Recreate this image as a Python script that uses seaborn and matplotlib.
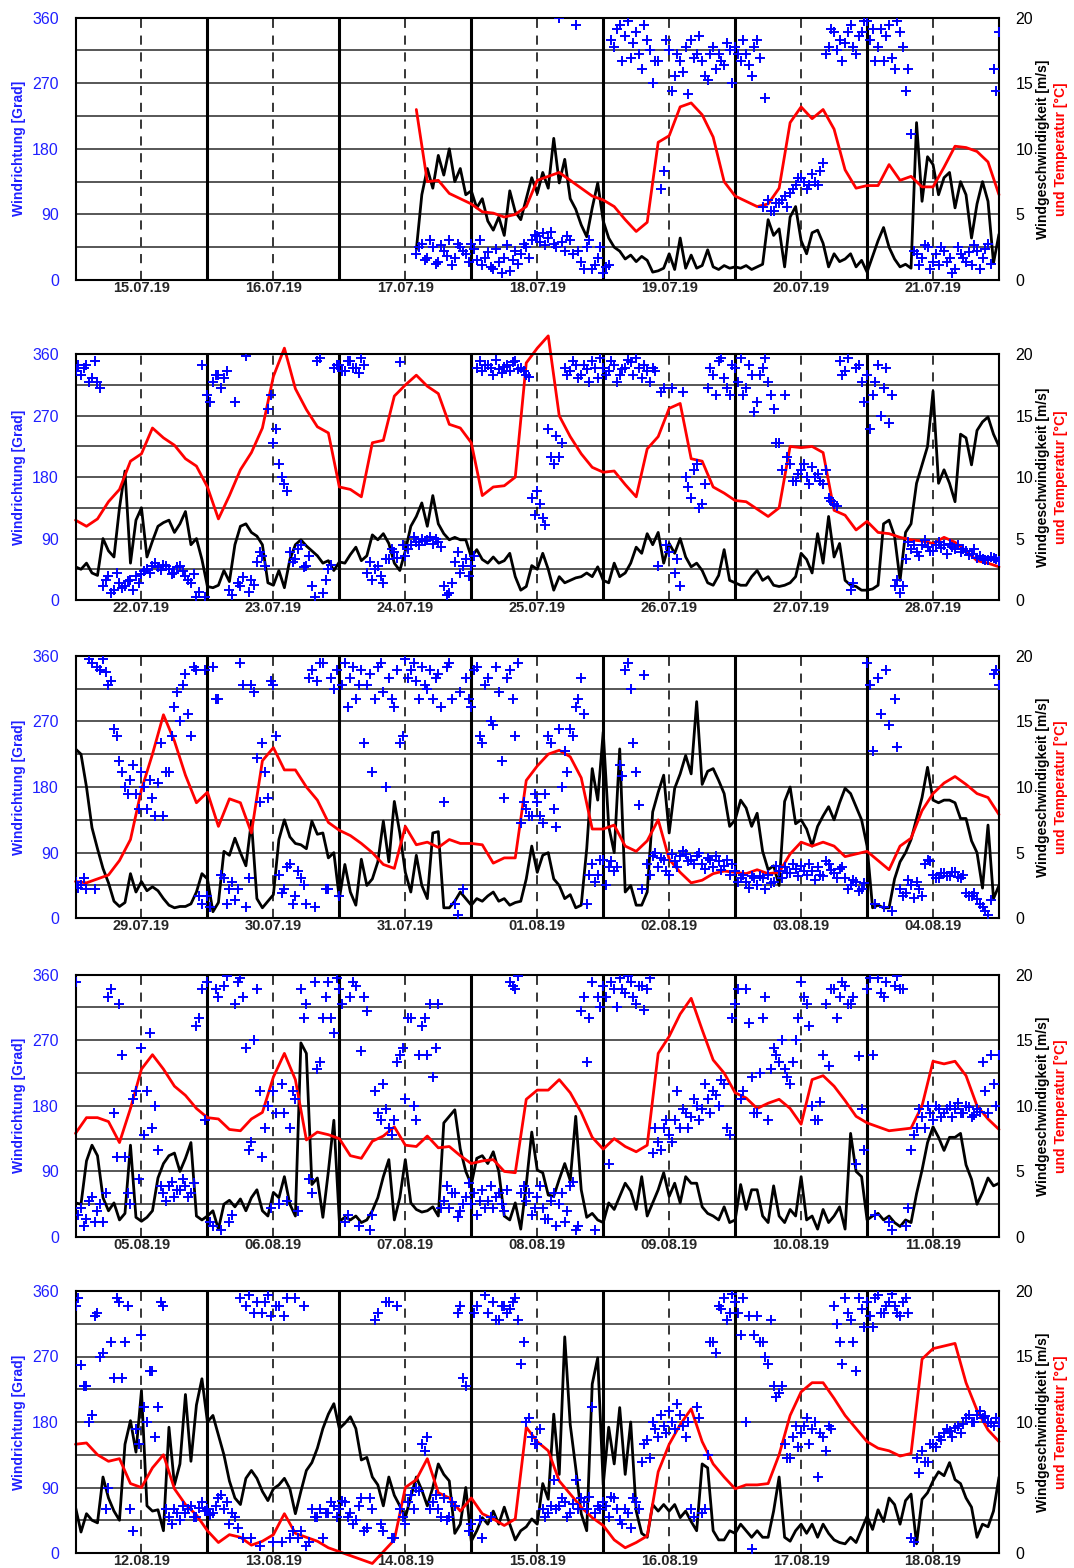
import numpy as np
import matplotlib
matplotlib.use("Agg")
import matplotlib.pyplot as plt
import seaborn as sns

sns.set_style("white")
plt.rcParams['font.family'] = ['Liberation Sans', 'DejaVu Sans']

# ---------------- data (hourly wind speed, half-hourly direction, 2-hourly temperature) ----------------
dates_w1 = ["15.07.19", "16.07.19", "17.07.19", "18.07.19", "19.07.19", "20.07.19", "21.07.19"]
dates_w2 = ["22.07.19", "23.07.19", "24.07.19", "25.07.19", "26.07.19", "27.07.19", "28.07.19"]
dates_w3 = ["29.07.19", "30.07.19", "31.07.19", "01.08.19", "02.08.19", "03.08.19", "04.08.19"]
dates_w4 = ["05.08.19", "06.08.19", "07.08.19", "08.08.19", "09.08.19", "10.08.19", "11.08.19"]
dates_w5 = ["12.08.19", "13.08.19", "14.08.19", "15.08.19", "16.08.19", "17.08.19", "18.08.19"]

speed_w1 = [None] * 62 + [
    2.3, 6.5, 8.5, 7.0, 9.5, 8.0, 10.0, 7.5, 8.5, 6.5, 6.8, 5.5,
    6.2, 4.5, 3.8, 4.8, 3.4, 6.8, 5.2, 4.6, 6.2, 7.8, 6.6, 8.2,
    7.0, 10.8, 7.4, 9.2, 6.2, 5.4, 4.2, 3.3, 5.5, 7.4, 4.5, 3.2,
    2.5, 2.2, 1.6, 1.9, 1.4, 1.8, 1.5, 0.6, 0.7, 0.9, 2.0, 0.8,
    3.2, 0.9, 1.9, 0.9, 1.1, 2.3, 1.0, 0.8, 1.1, 0.9, 1.0, 0.9,
    1.1, 0.8, 1.0, 1.2, 4.6, 3.4, 3.9, 1.0, 4.8, 5.6, 3.0, 2.0,
    3.6, 3.8, 2.8, 1.0, 2.0, 1.4, 1.6, 2.0, 1.0, 1.5, 0.6, 1.8,
    3.0, 4.0, 2.5, 1.6, 1.0, 1.2, 0.9, 12.0, 6.0, 9.4, 8.8, 6.5,
    7.8, 8.2, 5.5, 7.5, 6.5, 3.2, 5.8, 7.5, 6.0, 1.3, 3.5]
dir_w1 = [None] * 62 + [
    35, 50, 30, 45, 25, 40, 55, 30, 45, 35, 50, 28,
    20, 38, 15, 25, 30, 12, 40, 35, 45, 55, 60, 65,
    58, 50, 360, 40, 55, 350, 25, 45, 15, 30, 10, 20,
    320, 350, 335, 305, 340, 290, 330, 270, 300, 150, 315, 280,
    300, 320, 330, 310, 300, 275, 320, 310, 295, 315, 320, 300,
    310, 280, 330, 100, 110, 95, 105, 115, 120, 130, 140, 125,
    145, 130, 160, 320, 340, 330, 325, 350, 310, 340, 355, 345,
    320, 300, 350, 290, 340, 260, 200, 35, 30, 45, 25, 20,
    40, 30, 15, 35, 25, 20, 40, 30, 50, 290, 340]
dir2_w1 = [None] * 62 + [
    45, 28, 55, 22, 48, 33, 20, 50, 40, 25, 42, 55,
    30, 18, 42, 10, 48, 28, 22, 50, 30, 62, 52, 48,
    66, 45, 52, 60, 35, 40, 15, 55, 20, 45, 18, 330,
    345, 300, 355, 325, 310, 350, 315, 300, 125, 330, 260, 310,
    285, 255, 305, 335, 280, 310, 290, 300, 325, 270, 310, 330,
    295, 320, 305, 250, 95, 105, 110, 100, 125, 140, 135, 130,
    135, 150, 310, 345, 315, 300, 340, 320, 335, 355, 330, 300,
    345, 335, 305, 355, 320, 290, 40, 20, 48, 15, 35, 45,
    25, 10, 45, 30, 38, 48, 15, 42, 22, 260]
temp_w1 = [None] * 31 + [
    13.0, 7.5, 7.6, 6.6, 6.2, 5.8, 5.2, 5.1, 4.8, 5.0, 5.6, 7.6,
    7.9, 8.2, 7.6, 7.0, 6.4, 6.1, 5.6, 4.6, 3.7, 4.4, 10.5, 11.0,
    13.2, 13.5, 12.6, 10.9, 7.5, 6.4, 6.0, 5.6, 5.8, 7.0, 12.0, 13.2,
    12.3, 13.0, 11.5, 8.4, 7.0, 7.2, 7.2, 8.8, 7.6, 7.9, 7.1, 7.1,
    8.6, 10.2, 10.1, 9.8, 9.0, 6.5]

speed_w2 = [
    2.7, 2.5, 3.0, 2.2, 2.0, 5.0, 4.0, 3.5, 7.5, 10.5, 3.0, 6.5,
    7.5, 3.5, 4.8, 6.0, 6.3, 6.5, 5.5, 6.2, 7.2, 4.5, 5.0, 3.3,
    1.1, 1.0, 1.2, 2.4, 1.5, 4.5, 6.0, 6.2, 5.5, 5.2, 4.5, 1.4,
    1.2, 2.4, 1.0, 3.3, 4.5, 4.9, 4.4, 4.0, 3.6, 3.0, 3.2, 2.4,
    3.1, 3.0, 3.7, 4.3, 3.2, 3.6, 5.3, 4.9, 5.4, 4.6, 3.0, 2.4,
    4.0, 6.0, 6.8, 7.9, 6.0, 8.5, 6.2, 5.4, 4.9, 5.1, 4.9, 4.9,
    3.5, 4.1, 3.3, 3.0, 3.5, 3.0, 3.2, 3.8, 1.9, 0.8, 1.1, 2.8,
    2.5, 3.8, 2.5, 0.8, 1.9, 1.4, 1.6, 1.8, 1.9, 2.2, 1.9, 2.7,
    1.6, 1.4, 3.0, 1.9, 2.2, 3.0, 4.3, 3.8, 5.4, 4.5, 5.5, 3.0,
    4.6, 3.8, 5.0, 3.5, 2.7, 3.0, 2.4, 1.4, 1.2, 2.0, 4.1, 1.6,
    1.4, 1.2, 1.2, 1.9, 2.4, 1.6, 1.9, 1.2, 1.1, 1.2, 1.4, 1.9,
    3.8, 3.3, 2.2, 5.4, 3.0, 6.8, 3.5, 4.6, 1.6, 1.2, 1.1, 0.8,
    0.8, 0.9, 1.2, 6.2, 6.5, 5.2, 1.6, 5.5, 6.2, 9.5, 11.0, 12.5,
    17.0, 9.5, 10.6, 9.5, 8.0, 13.5, 13.2, 11.0, 13.8, 14.5, 14.9, 13.5, 12.5]
dir_w2 = [
    335, 330, 345, 325, 320, 20, 35, 15, 25, 20, 30, 35,
    38, 45, 50, 48, 52, 45, 40, 50, 35, 25, 5, 345,
    300, 320, 330, 325, 15, 290, 20, 357, 30, 55, 65, 280,
    230, 200, 170, 70, 60, 80, 50, 20, 350, 10, 45, 340,
    345, 335, 350, 340, 355, 40, 30, 50, 25, 60, 70, 348,
    65, 80, 85, 90, 88, 82, 85, 20, 10, 55, 40, 60,
    50, 340, 335, 345, 330, 338, 342, 335, 350, 340, 330, 150,
    160, 120, 250, 200, 210, 340, 335, 345, 330, 338, 350, 325,
    340, 335, 345, 330, 340, 348, 355, 325, 335, 340, 50, 310,
    70, 40, 20, 180, 150, 200, 140, 310, 330, 350, 325, 300,
    340, 355, 310, 330, 290, 340, 320, 280, 230, 300, 200, 175,
    190, 180, 195, 185, 170, 150, 140, 350, 335, 15, 340, 320,
    330, 300, 345, 310, 260, 20, 10, 60, 75, 70, 80, 78,
    72, 85, 80, 82, 75, 70, 72, 68, 62, 60, 58, 62, 57]
dir2_w2 = [
    345, 340, 320, 350, 310, 30, 10, 40, 18, 28, 15, 25,
    42, 40, 54, 44, 50, 38, 48, 42, 30, 38, 12, 5,
    290, 330, 310, 335, 8, 25, 34, 12, 22, 70, 50, 300,
    250, 180, 160, 55, 75, 48, 65, 5, 355, 30, 52, 345,
    335, 350, 340, 332, 345, 55, 45, 35, 60, 75, 62, 80,
    75, 92, 80, 86, 93, 90, 78, 8, 25, 70, 50, 35,
    65, 350, 345, 340, 352, 332, 345, 348, 338, 335, 327, 125,
    140, 110, 210, 240, 230, 330, 350, 325, 345, 320, 340, 355,
    330, 350, 320, 338, 352, 330, 340, 345, 320, 335, 305, 80,
    310, 60, 305, 165, 190, 135, 170, 340, 300, 355, 310, 345,
    320, 300, 345, 275, 330, 355, 300, 230, 190, 210, 175, 185,
    200, 170, 180, 175, 190, 145, 137, 330, 355, 25, 345, 290,
    250, 320, 270, 340, 300, 30, 20, 85, 80, 65, 88, 72,
    80, 76, 68, 78, 80, 74, 66, 75, 64, 58, 63, 60]
temp_w2 = [
    6.5, 6.0, 6.6, 8.0, 9.0, 11.3, 11.9, 14.0, 13.2, 12.6, 11.5, 10.9,
    9.2, 6.6, 8.5, 10.6, 12.0, 14.0, 18.2, 20.5, 17.2, 15.5, 14.1, 13.6,
    9.2, 9.0, 8.4, 12.8, 13.0, 16.6, 17.5, 18.3, 17.4, 16.8, 14.3, 14.0,
    12.8, 8.5, 9.2, 9.3, 10.0, 19.3, 20.5, 21.5, 15.0, 13.3, 11.9, 10.8,
    10.4, 10.5, 9.4, 8.4, 12.3, 13.3, 15.6, 16.0, 11.5, 11.3, 9.2, 8.7,
    8.1, 8.0, 7.4, 6.8, 7.5, 12.5, 12.4, 12.5, 12.0, 7.3, 6.9, 5.7,
    6.4, 5.5, 5.4, 5.1, 4.9, 4.8, 4.6, 5.1, 4.7, 4.0, 3.2, 3.0, 2.7]

speed_w3 = [
    12.9, 12.5, 10.0, 6.9, 5.3, 3.8, 2.7, 1.3, 0.9, 1.2, 3.4, 2.0,
    2.8, 2.1, 2.4, 2.1, 1.5, 1.0, 0.8, 0.9, 0.9, 1.1, 2.0, 3.4,
    3.0, 0.5, 1.2, 5.1, 4.8, 6.1, 5.0, 4.0, 7.4, 1.5, 0.8, 1.3,
    1.8, 6.0, 7.5, 6.2, 5.7, 5.6, 5.3, 7.4, 6.4, 6.5, 4.6, 5.0,
    1.5, 4.1, 2.0, 1.0, 4.5, 2.5, 3.0, 4.3, 7.4, 4.3, 8.9, 6.5,
    3.5, 2.0, 4.8, 2.5, 1.5, 6.5, 6.6, 0.8, 0.8, 1.3, 2.0, 1.5,
    1.0, 1.5, 1.3, 1.7, 2.0, 1.3, 1.5, 1.0, 1.2, 1.3, 3.0, 5.5,
    3.5, 4.8, 5.0, 3.0, 2.5, 1.5, 1.8, 0.8, 1.0, 5.3, 11.4, 9.0,
    14.2, 7.0, 5.0, 12.9, 2.0, 2.5, 1.0, 1.0, 2.0, 8.1, 9.6, 10.9,
    6.5, 9.9, 11.0, 12.4, 11.0, 16.5, 10.2, 11.2, 11.4, 10.5, 9.5, 7.0,
    7.5, 9.0, 8.4, 7.0, 8.0, 5.1, 3.7, 4.0, 2.5, 8.9, 10.0, 7.2,
    7.5, 6.8, 5.5, 7.0, 7.8, 8.5, 7.5, 8.8, 9.9, 9.5, 8.5, 7.5,
    5.5, 0.8, 1.0, 0.8, 0.8, 3.0, 4.3, 5.0, 6.0, 7.6, 9.2, 11.5,
    9.0, 8.8, 9.0, 9.0, 8.8, 7.6, 7.6, 5.9, 5.0, 2.3, 7.1, 1.5, 2.5]
dir_w3 = [
    50, 45, 40, 350, 345, 355, 320, 260, 215, 180, 190, 170,
    200, 150, 165, 185, 140, 200, 290, 270, 335, 250, 340, 20,
    30, 345, 300, 55, 40, 25, 350, 15, 320, 220, 240, 165,
    320, 60, 40, 75, 30, 55, 20, 340, 325, 350, 40, 315,
    30, 350, 330, 300, 340, 320, 200, 345, 310, 330, 290, 240,
    355, 340, 325, 345, 315, 300, 335, 160, 350, 20, 310, 330,
    290, 345, 240, 330, 265, 310, 165, 340, 250, 130, 150, 140,
    160, 130, 250, 150, 260, 230, 260, 290, 330, 20, 75, 60,
    80, 70, 65, 210, 340, 315, 200, 40, 75, 85, 70, 80,
    60, 78, 85, 88, 80, 85, 75, 82, 70, 78, 72, 60,
    65, 55, 50, 58, 45, 55, 60, 50, 65, 70, 62, 68,
    72, 60, 65, 70, 58, 75, 62, 68, 55, 45, 50, 40,
    350, 230, 330, 15, 265, 300, 40, 35, 45, 50, 30, 80,
    60, 55, 62, 58, 64, 55, 35, 30, 27, 15, 5, 335, 320]
dir2_w3 = [
    42, 55, 355, 40, 340, 338, 325, 250, 200, 170, 210, 150,
    180, 190, 140, 240, 200, 250, 310, 320, 280, 345, 30, 340,
    15, 300, 60, 20, 50, 40, 320, 55, 310, 160, 200, 325,
    250, 35, 70, 20, 65, 45, 330, 15, 350, 40, 330, 340,
    320, 290, 345, 320, 240, 335, 300, 350, 180, 300, 340, 250,
    330, 350, 300, 320, 340, 330, 290, 345, 300, 5, 40, 300,
    340, 250, 320, 270, 345, 215, 330, 300, 350, 160, 140, 170,
    140, 170, 240, 125, 180, 200, 250, 300, 280, 60, 50, 80,
    46, 78, 70, 195, 350, 240, 155, 333, 60, 90, 82, 65,
    88, 70, 92, 78, 75, 90, 68, 80, 85, 66, 80, 75,
    50, 60, 42, 55, 58, 40, 48, 72, 55, 62, 75, 58,
    65, 74, 52, 60, 78, 66, 55, 70, 40, 52, 38, 48,
    320, 20, 280, 340, 10, 235, 30, 52, 28, 40, 75, 78,
    55, 62, 58, 64, 56, 60, 30, 35, 20, 10, 25, 340]
temp_w3 = [
    2.8, 2.7, 3.0, 3.3, 4.4, 6.0, 9.8, 12.5, 15.5, 13.5, 10.9, 8.8,
    9.6, 7.0, 9.1, 8.8, 6.5, 12.0, 13.0, 11.3, 11.3, 10.0, 9.0, 7.3,
    6.7, 6.3, 5.7, 5.0, 4.1, 3.8, 7.0, 5.6, 5.8, 5.4, 6.0, 5.7,
    5.7, 5.6, 4.2, 4.6, 4.6, 10.5, 11.6, 12.5, 12.8, 12.3, 10.7, 6.8,
    6.8, 7.1, 5.5, 5.1, 5.9, 7.5, 4.5, 3.5, 2.7, 2.9, 3.4, 3.6,
    3.5, 3.4, 3.7, 3.4, 3.5, 4.9, 5.8, 5.5, 5.8, 5.5, 4.7, 4.9,
    5.1, 4.4, 3.7, 5.5, 6.1, 8.2, 9.5, 10.3, 10.8, 10.2, 9.5, 9.2, 7.9]

speed_w4 = [
    2.6, 2.5, 5.8, 7.0, 6.2, 3.0, 2.0, 2.6, 1.3, 1.8, 7.0, 1.5,
    1.2, 1.5, 2.0, 4.5, 5.6, 6.2, 6.4, 5.0, 6.0, 7.2, 1.6, 1.3,
    1.6, 2.0, 0.6, 2.5, 2.8, 2.3, 2.9, 2.0, 3.0, 3.6, 2.0, 1.6,
    3.4, 3.0, 4.6, 2.5, 1.6, 14.8, 14.0, 4.0, 4.5, 1.5, 5.0, 8.9,
    1.2, 1.5, 1.3, 1.6, 1.1, 1.3, 2.0, 3.0, 4.6, 5.9, 1.3, 3.0,
    5.9, 2.6, 2.1, 1.9, 2.0, 2.3, 1.6, 8.7, 9.2, 9.7, 6.7, 5.0,
    4.0, 6.0, 6.2, 5.6, 6.5, 5.0, 1.6, 1.3, 2.6, 0.6, 4.0, 8.0,
    5.1, 4.9, 3.2, 3.1, 4.4, 5.6, 4.3, 9.2, 3.6, 1.5, 1.8, 1.3,
    1.1, 2.6, 2.1, 3.1, 4.1, 3.5, 2.1, 4.6, 1.6, 2.6, 3.6, 4.9,
    3.1, 4.1, 2.6, 4.6, 4.1, 4.1, 2.3, 1.8, 1.6, 1.3, 2.3, 1.1,
    1.3, 4.0, 2.1, 3.6, 3.6, 1.6, 1.1, 3.9, 1.6, 1.1, 2.1, 1.6,
    4.6, 1.3, 1.6, 0.6, 2.1, 1.1, 1.6, 2.3, 0.6, 7.9, 5.0, 4.6,
    1.3, 1.6, 1.8, 1.3, 1.6, 1.1, 0.8, 1.3, 1.1, 3.3, 5.1, 7.2,
    8.4, 7.6, 6.6, 7.6, 7.6, 7.9, 5.5, 4.4, 2.5, 3.4, 4.5, 3.9, 4.1]
dir_w4 = [
    350, 40, 25, 55, 35, 20, 330, 170, 320, 110, 45, 200,
    260, 200, 150, 120, 60, 70, 55, 65, 70, 60, 290, 340,
    350, 15, 330, 345, 20, 320, 355, 260, 130, 340, 110, 180,
    200, 45, 170, 150, 190, 340, 320, 60, 230, 300, 350, 280,
    340, 20, 330, 345, 255, 310, 30, 170, 210, 150, 160, 250,
    190, 300, 160, 290, 250, 220, 320, 50, 40, 60, 35, 55,
    45, 30, 65, 50, 40, 60, 35, 350, 340, 60, 50, 30,
    55, 40, 25, 60, 45, 20, 70, 10, 310, 240, 350, 330,
    345, 100, 340, 355, 335, 350, 320, 345, 340, 115, 130, 150,
    140, 160, 150, 170, 165, 180, 175, 190, 200, 180, 210, 140,
    320, 190, 340, 220, 170, 300, 160, 260, 240, 230, 210, 270,
    350, 320, 180, 160, 250, 235, 340, 330, 345, 320, 100, 175,
    340, 250, 355, 330, 20, 345, 340, 15, 120, 150, 165, 180,
    160, 175, 170, 180, 175, 170, 180, 165, 175, 240, 170, 210, 250]
dir2_w4 = [
    30, 15, 50, 20, 45, 60, 340, 110, 250, 60, 190, 80,
    140, 280, 180, 70, 50, 75, 65, 80, 55, 74, 300, 160,
    20, 340, 10, 358, 30, 350, 330, 120, 270, 200, 150, 40,
    170, 210, 50, 200, 35, 300, 80, 350, 240, 330, 300, 355,
    320, 30, 350, 15, 330, 10, 200, 160, 175, 140, 240, 260,
    300, 180, 250, 300, 320, 260, 40, 70, 60, 28, 45, 74,
    60, 50, 40, 70, 55, 45, 65, 345, 358, 70, 60, 40,
    70, 25, 50, 15, 60, 35, 75, 15, 330, 300, 10, 315,
    330, 350, 315, 340, 358, 330, 345, 312, 355, 150, 120, 160,
    130, 200, 175, 150, 190, 160, 210, 170, 195, 216, 150, 300,
    340, 200, 294, 170, 225, 330, 230, 250, 270, 220, 240, 300,
    330, 290, 160, 185, 320, 340, 300, 350, 320, 330, 248, 120,
    355, 30, 335, 350, 10, 358, 340, 40, 140, 175, 150, 170,
    180, 165, 175, 165, 184, 170, 178, 168, 172, 200, 250, 180]
temp_w4 = [
    7.9, 9.1, 9.1, 8.8, 7.2, 9.8, 12.8, 13.9, 12.8, 11.5, 10.8, 9.8,
    9.1, 9.0, 8.2, 8.1, 9.0, 9.5, 12.2, 14.0, 12.0, 7.4, 8.0, 7.8,
    7.5, 6.2, 6.0, 7.3, 7.7, 8.4, 7.0, 6.9, 7.7, 6.8, 6.9, 6.2,
    5.6, 5.8, 5.9, 5.0, 4.9, 10.5, 11.2, 11.2, 12.0, 11.0, 9.5, 7.6,
    6.7, 7.5, 6.9, 6.5, 7.0, 14.0, 15.3, 17.0, 18.2, 15.8, 13.5, 12.5,
    11.0, 10.6, 9.8, 10.2, 10.5, 9.8, 8.6, 12.0, 12.3, 11.5, 10.4, 9.2,
    8.7, 8.4, 8.1, 8.2, 8.3, 10.0, 13.4, 13.2, 13.4, 12.3, 10.0, 9.0, 8.2]

speed_w5 = [
    3.5, 1.6, 3.0, 2.5, 2.3, 5.8, 4.2, 3.2, 2.5, 8.3, 10.1, 7.7,
    12.4, 3.6, 3.2, 3.3, 1.7, 9.6, 5.2, 6.8, 12.1, 7.0, 11.3, 13.3,
    10.0, 10.5, 9.0, 7.5, 5.5, 4.2, 3.7, 5.7, 6.3, 5.7, 4.7, 4.0,
    4.9, 5.2, 5.7, 4.9, 3.0, 4.7, 6.3, 6.9, 8.0, 9.5, 10.6, 11.4,
    9.5, 9.9, 10.4, 9.5, 7.1, 7.3, 5.8, 5.2, 3.6, 5.8, 4.4, 3.6,
    2.7, 4.3, 5.8, 4.8, 3.6, 5.0, 6.8, 6.0, 5.5, 1.5, 2.2, 5.0,
    0.9, 1.7, 2.7, 2.2, 3.2, 2.2, 3.5, 2.2, 1.0, 1.7, 2.0, 2.6,
    2.2, 5.3, 4.1, 10.6, 6.0, 16.5, 9.8, 6.5, 3.0, 1.7, 12.9, 14.9,
    5.2, 9.6, 6.8, 11.1, 6.0, 10.0, 3.2, 1.5, 1.2, 3.7, 3.2, 3.7,
    3.2, 3.7, 2.7, 3.2, 2.4, 1.7, 6.8, 6.5, 1.7, 1.0, 1.0, 1.7,
    1.5, 2.2, 1.7, 1.2, 1.7, 1.2, 1.2, 3.2, 5.8, 1.2, 0.9, 1.7,
    2.2, 1.5, 2.2, 1.2, 2.2, 1.5, 1.0, 0.8, 0.7, 1.2, 0.8, 1.8,
    2.8, 1.8, 3.3, 2.4, 4.2, 3.7, 2.2, 4.0, 4.5, 0.7, 4.1, 4.6,
    5.5, 6.2, 5.9, 6.9, 5.6, 5.3, 4.2, 3.5, 1.2, 2.2, 2.0, 3.2, 5.8]
dir_w5 = [
    340, 259, 230, 190, 330, 275, 90, 240, 345, 290, 60, 170,
    300, 180, 250, 200, 340, 50, 60, 45, 55, 65, 50, 70,
    60, 55, 75, 60, 40, 50, 350, 340, 20, 345, 330, 355,
    15, 340, 325, 20, 350, 30, 10, 60, 50, 20, 55, 65,
    60, 70, 55, 45, 75, 35, 60, 330, 30, 345, 20, 60,
    40, 80, 90, 150, 160, 70, 60, 75, 50, 65, 340, 230,
    40, 340, 20, 330, 345, 320, 340, 335, 350, 260, 180, 160,
    150, 60, 55, 100, 65, 70, 55, 100, 75, 60, 200, 65,
    70, 50, 75, 45, 60, 35, 70, 125, 155, 180, 160, 175,
    195, 170, 190, 160, 60, 200, 55, 135, 290, 340, 350, 330,
    345, 300, 180, 5, 325, 290, 260, 230, 220, 150, 130, 175,
    165, 185, 170, 105, 160, 175, 340, 290, 350, 320, 250, 335,
    345, 310, 355, 330, 345, 340, 325, 350, 20, 130, 140, 125,
    150, 160, 165, 168, 172, 165, 185, 180, 190, 185, 180, 175, 178]
dir2_w5 = [
    350, 230, 180, 325, 270, 60, 290, 350, 240, 340, 30, 150,
    200, 250, 160, 345, 60, 40, 55, 65, 60, 50, 62, 58,
    52, 65, 80, 70, 55, 35, 20, 355, 330, 10, 345, 325,
    340, 15, 350, 30, 20, 340, 15, 50, 60, 55, 70, 50,
    72, 50, 40, 65, 30, 75, 320, 40, 345, 20, 340, 50,
    70, 60, 85, 140, 60, 80, 50, 45, 70, 330, 240, 30,
    330, 45, 355, 50, 320, 340, 330, 345, 320, 290, 186, 150,
    170, 50, 65, 60, 75, 50, 68, 60, 70, 77, 55, 60,
    65, 77, 60, 40, 55, 75, 60, 150, 130, 170, 190, 165,
    180, 205, 175, 180, 50, 185, 60, 290, 275, 335, 320, 356,
    330, 350, 325, 300, 290, 270, 320, 215, 230, 130, 160, 145,
    175, 150, 180, 165, 140, 170, 315, 260, 330, 290, 350, 310,
    325, 350, 330, 340, 356, 330, 345, 330, 15, 110, 125, 150,
    145, 155, 170, 160, 175, 177, 190, 180, 195, 188, 178, 185]
temp_w5 = [
    8.3, 8.4, 7.5, 7.0, 7.2, 5.3, 5.0, 6.5, 7.5, 4.9, 3.7, 2.9,
    1.7, 0.8, 1.4, 1.2, 0.6, 0.9, 1.4, 3.0, 1.5, 1.2, 0.9, 0.4,
    0.1, -0.2, -0.5, -0.8, 0.1, 1.0, 5.0, 5.6, 7.2, 4.6, 4.2, 3.2,
    4.2, 3.0, 2.6, 2.1, 2.6, 9.6, 8.5, 7.8, 5.5, 4.5, 3.5, 2.7,
    2.1, 1.0, 0.4, 0.8, 1.3, 6.2, 8.3, 9.8, 11.0, 8.5, 6.8, 5.8,
    4.9, 5.2, 5.2, 5.3, 7.5, 10.5, 12.3, 13.0, 13.0, 11.8, 10.5, 9.5,
    8.5, 8.0, 7.8, 7.4, 7.6, 14.8, 15.6, 15.8, 16.0, 13.0, 10.9, 9.4, 8.5]

dir_ticks = [0, 90, 180, 270, 360]
speed_ticks = [0, 5, 10, 15, 20]

weeks = [
    (dates_w1, dir_w1, dir2_w1, speed_w1, temp_w1),
    (dates_w2, dir_w2, dir2_w2, speed_w2, temp_w2),
    (dates_w3, dir_w3, dir2_w3, speed_w3, temp_w3),
    (dates_w4, dir_w4, dir2_w4, speed_w4, temp_w4),
    (dates_w5, dir_w5, dir2_w5, speed_w5, temp_w5),
]

# axes boxes in figure pixels: (top, bottom)
W, H = 1074, 1568
x_left, x_right = 75.5, 999.0
boxes_px = [(17.7, 280.0), (354.3, 600.0), (655.7, 918.3), (974.7, 1237.0), (1291.0, 1553.0)]

BLUE = "#0000ff"
BLUE_TXT = "#2020ff"
RED = "#ff0000"

fig = plt.figure(figsize=(W / 100, H / 100), dpi=100)

for (dates, dirs, dirs2, speeds, temps), (top, bot) in zip(weeks, boxes_px):
    rect = [x_left / W, 1 - bot / H, (x_right - x_left) / W, (bot - top) / H]
    ax2 = fig.add_axes(rect)          # speed / temperature (bottom layer)
    ax = ax2.twinx()                  # direction (top layer, scatter)
    ax.yaxis.set_label_position("left")
    ax.yaxis.tick_left()
    ax2.yaxis.tick_right()
    ax2.yaxis.set_label_position("right")

    d = np.array(dirs, dtype=float)
    d2 = np.array(dirs2, dtype=float)
    s = np.array(speeds, dtype=float)
    t = np.array(temps, dtype=float)
    h1 = np.arange(len(s))
    hd = np.arange(len(d))
    hd2 = np.arange(len(d2)) + 0.5
    h2 = np.arange(len(t)) * 2

    ax2.set_xlim(0, 168)
    ax2.set_ylim(0, 20)
    ax.set_ylim(0, 360)

    # grid
    for k in range(1, 8):
        ax2.axhline(2.5 * k, color="#3a3a3a", lw=1.2, zorder=0.5)
    for day in range(1, 7):
        ax2.axvline(24 * day, color="black", lw=2.2, zorder=0.6)
    for day in range(7):
        ax2.axvline(24 * day + 12, color="black", lw=1.1, dashes=(6, 5), zorder=0.6)

    m = ~np.isnan(s)
    sns.lineplot(x=h1[m], y=s[m], ax=ax2, color="black", lw=2.0, zorder=2)
    m = ~np.isnan(t)
    sns.lineplot(x=h2[m], y=t[m], ax=ax2, color=RED, lw=2.0, zorder=3, clip_on=False)
    m = ~np.isnan(d)
    sns.scatterplot(x=hd[m], y=d[m], ax=ax, marker="+", color=BLUE, s=45,
                    linewidth=1.4, zorder=4)
    m = ~np.isnan(d2)
    sns.scatterplot(x=hd2[m], y=d2[m], ax=ax, marker="+", color=BLUE, s=45,
                    linewidth=1.4, zorder=4)

    ax.set_zorder(ax2.get_zorder() + 1)
    ax.patch.set_visible(False)

    ax.set_yticks(dir_ticks)
    ax.set_yticklabels([str(v) for v in dir_ticks], color=BLUE_TXT, fontsize=11.5)
    ax2.set_yticks(speed_ticks)
    ax2.set_yticklabels([str(v) for v in speed_ticks], color="black", fontsize=11.5)
    ax.tick_params(axis="y", length=0, pad=12)
    ax2.tick_params(axis="y", length=0, pad=12)

    ax2.set_xticks([24 * i + 12 for i in range(7)])
    ax2.set_xticklabels(dates, fontweight="bold", fontsize=10.5)
    ax2.tick_params(axis="x", length=0, pad=0.5)
    ax.set_xlim(0, 168)
    ax.set_xlabel("")
    ax.set_ylabel("")
    ax2.set_xlabel("")
    ax2.set_ylabel("")

    for sp in ax.spines.values():
        sp.set_linewidth(1.5)
        sp.set_color("black")
    for sp in ax2.spines.values():
        sp.set_visible(False)

    yc = 1 - (top + bot) / 2 / H
    fig.text(19 / W, yc, "Windrichtung [Grad]", rotation=90, ha="center", va="center",
             color=BLUE_TXT, fontsize=10, fontweight="bold")
    fig.text(1043 / W, yc, "Windgeschwindigkeit [m/s]", rotation=90, ha="center",
             va="center", color="black", fontsize=10, fontweight="bold")
    fig.text(1060.5 / W, yc, "und Temperatur [°C]", rotation=90, ha="center",
             va="center", color=RED, fontsize=10, fontweight="bold")

fig.savefig("out.png", dpi=100)
